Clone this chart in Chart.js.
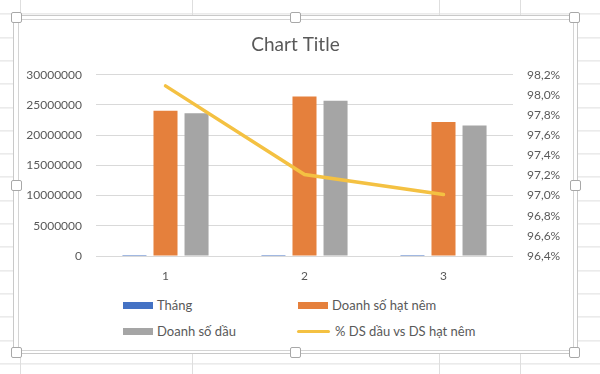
<!DOCTYPE html>
<html>
<head>
<meta charset="utf-8">
<script src="https://cdn.jsdelivr.net/npm/chart.js@4/dist/chart.umd.min.js"></script>
<style>
  html, body {
    margin: 0;
    padding: 0;
  }
  body {
    width: 600px;
    height: 374px;
    position: relative;
    overflow: hidden;
    background-color: #fff;
    background-image: repeating-linear-gradient(to bottom, transparent 0, transparent 22.3px, #dedede 22.3px, #dedede 23.3px);
    background-position: 0 -8.6px;
    font-family: Lato, "Noto Sans", sans-serif;
  }
  .col-line {
    position: absolute;
    top: 0;
    width: 1px;
    height: 374px;
    background: #dedede;
  }
  #frame-outer {
    position: absolute;
    left: 13px;
    top: 15px;
    width: 563px;
    height: 337px;
    border: 1px solid #c9c9c9;
    background: #fff;
  }
  #frame-inner {
    position: absolute;
    left: 18px;
    top: 19px;
    width: 554px;
    height: 330px;
    border: 1px solid #d4d4d4;
    background: #fff;
  }
  #chart-box {
    position: absolute;
    left: 18px;
    top: 19px;
    width: 555px;
    height: 270px;
  }
  .handle {
    position: absolute;
    width: 9px;
    height: 9px;
    border: 1px solid #a8a8a8;
    border-radius: 2px;
    background: #fff;
  }
  .legend-item {
    position: absolute;
    height: 14px;
    color: #595959;
    font-size: 13px;
    line-height: 14px;
    white-space: nowrap;
  }
  .legend-item span.swatch {
    position: absolute;
    left: 0;
  }
  .legend-item span.text {
    position: absolute;
    left: 36px;
    top: 0;
  }
</style>
</head>
<body>
<div class="col-line" style="left:20px"></div>
<div class="col-line" style="left:192px"></div>
<div class="col-line" style="left:439px"></div>
<div class="col-line" style="left:520px"></div>
<div id="frame-outer"></div>
<div id="frame-inner"></div>
<div id="chart-box"><canvas id="chart"></canvas></div>
<div id="legend"></div>
<script>
// data
const months = ["1", "2", "3"];
const thang = [1, 2, 3];
const doanhSoHatNem = [24050000, 26400000, 22200000];
const doanhSoDau = [23650000, 25700000, 21600000];
const tyLeDauVsHatNem = [0.9809, 0.9721, 0.9701];

const seriesNames = ["Tháng", "Doanh số hạt nêm", "Doanh số dầu", "% DS dầu vs DS hạt nêm"];
const seriesColors = ["#4472C4", "#E5803C", "#A5A5A5", "#F4C142"];

const textColor = "#595959";
const gridColor = "#d9d9d9";

document.addEventListener("DOMContentLoaded", () => {
  const chart = createChart();
  buildLegend(chart);
  addHandles();
});

function createChart() {
  const ctx = document.getElementById("chart").getContext("2d");
  const barOpts = {
    type: "bar",
    yAxisID: "y",
    categoryPercentage: 0.67,
    barPercentage: 0.774,
    inflateAmount: 0,
    order: 1,
  };
  return new Chart(ctx, {
    data: {
      labels: months,
      datasets: [
        { ...barOpts, label: seriesNames[0], data: thang, backgroundColor: seriesColors[0] },
        { ...barOpts, label: seriesNames[1], data: doanhSoHatNem, backgroundColor: seriesColors[1] },
        { ...barOpts, label: seriesNames[2], data: doanhSoDau, backgroundColor: seriesColors[2] },
        {
          type: "line",
          label: seriesNames[3],
          data: tyLeDauVsHatNem,
          yAxisID: "y1",
          borderColor: seriesColors[3],
          borderWidth: 3.5,
          pointRadius: 0,
          tension: 0,
          fill: false,
          borderCapStyle: "round",
          order: 0,
        },
      ],
    },
    options: {
      responsive: true,
      maintainAspectRatio: false,
      animation: false,
      layout: { padding: 0 },
      plugins: {
        legend: { display: false },
        tooltip: { enabled: false },
        title: {
          display: true,
          text: "Chart Title",
          color: textColor,
          font: { family: "Lato", size: 19, weight: "normal" },
          padding: { top: 14, bottom: 19 },
        },
      },
      scales: {
        x: {
          grid: { display: false, drawTicks: false },
          border: { display: false },
          ticks: { color: textColor, font: { family: "Lato", size: 12 }, padding: 13 },
          afterFit: (scale) => { scale.height = 33; },
        },
        y: {
          position: "left",
          min: 0,
          max: 30000000,
          ticks: {
            stepSize: 5000000,
            color: textColor,
            font: { family: "Lato", size: 12 },
            padding: 14,
            callback: (v) => String(v),
          },
          grid: { color: gridColor, drawTicks: false },
          border: { display: false },
          afterFit: (scale) => { scale.width = 78; },
        },
        y1: {
          position: "right",
          min: 0.964,
          max: 0.982,
          ticks: {
            stepSize: 0.002,
            color: textColor,
            font: { family: "Lato", size: 12 },
            padding: 14,
            callback: (v) => (v * 100).toFixed(1).replace(".", ",") + "%",
          },
          grid: { drawOnChartArea: false, drawTicks: false },
          border: { display: false },
          afterFit: (scale) => { scale.width = 60; },
        },
      },
    },
  });
}

function buildLegend(chart) {
  const legend = document.getElementById("legend");
  const colX = [121, 296];
  const rowY = [298, 324];
  chart.data.datasets.forEach((ds, i) => {
    const item = document.createElement("div");
    item.className = "legend-item";
    item.style.left = colX[i % 2] + "px";
    item.style.top = rowY[Math.floor(i / 2)] + "px";

    const swatch = document.createElement("span");
    swatch.className = "swatch";
    if (ds.type === "line") {
      swatch.style.left = "1px";
      swatch.style.width = "33px";
      swatch.style.height = "3px";
      swatch.style.top = "6px";
      swatch.style.borderRadius = "2px";
      swatch.style.background = ds.borderColor;
    } else {
      swatch.style.left = "2px";
      swatch.style.width = "30px";
      swatch.style.height = "7px";
      swatch.style.top = "4px";
      swatch.style.background = ds.backgroundColor;
    }

    const text = document.createElement("span");
    text.className = "text";
    text.textContent = ds.label;
    if (ds.type === "line") text.style.left = "39px";

    item.appendChild(swatch);
    item.appendChild(text);
    legend.appendChild(item);
  });
}

function addHandles() {
  const spots = [
    [16, 17], [295, 17], [574, 17],
    [16, 185], [575, 185],
    [16, 352], [295, 352], [574, 352],
  ];
  spots.forEach(([cx, cy]) => {
    const h = document.createElement("div");
    h.className = "handle";
    h.style.left = (cx - 5) + "px";
    h.style.top = (cy - 5) + "px";
    document.body.appendChild(h);
  });
}
</script>
</body>
</html>
